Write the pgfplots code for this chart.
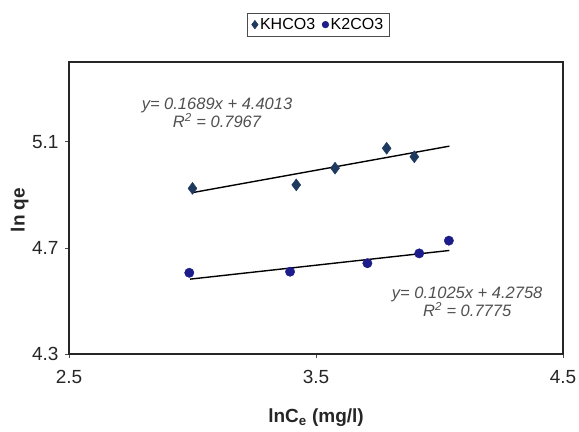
\documentclass[border=0pt]{standalone}
\usepackage{pgfplots}
\pgfplotsset{compat=1.18}
\usepackage{fontspec}
\setmainfont{Liberation Sans}
\definecolor{dia}{HTML}{1F3A5F}
\definecolor{circ}{HTML}{1C1C8A}
\definecolor{eqgray}{HTML}{505050}
\begin{document}
\begin{tikzpicture}
\path[use as bounding box] (0,0) rectangle (579bp,432bp);
\begin{axis}[
  at={(69bp,78bp)}, anchor=south west,
  width=494bp, height=292bp, scale only axis,
  xmin=2.5, xmax=4.5, ymin=4.3, ymax=5.4,
  xtick={2.5,3.5,4.5}, ytick={4.3,4.7,5.1},
  /pgf/number format/assume math mode=true,
  /pgf/number format/fixed, /pgf/number format/precision=1,
  /pgf/number format/fixed zerofill,
  tick align=outside, major tick length=4bp,
  xtick pos=bottom, ytick pos=left,
  axis line style={line width=1.3bp, black!85},
  tick style={black!70, line width=0.6bp},
  ticklabel style={font=\fontsize{19bp}{21bp}\selectfont, text=black!85},
  xticklabel style={yshift=-9bp},
  yticklabel style={xshift=-3bp},
  xlabel={\textbf{lnC\textsubscript{e} (mg/l)}},
  ylabel={\textbf{ln qe}},
  label style={font=\fontsize{19bp}{21bp}\selectfont, text=black!85},
  xlabel style={at={(axis description cs:0.5,-0.218)}, anchor=center},
  ylabel style={at={(axis description cs:-0.100,0.493)}, anchor=center},
  legend style={at={(0.505,1.128)}, anchor=center, legend columns=2,
    draw=black!70, line width=0.6bp, font=\fontsize{16bp}{18bp}\selectfont,
    inner xsep=4bp, inner ysep=3bp,
    /tikz/every even column/.append style={column sep=5bp}},
  legend image post style={scale=0.7},
  legend cell align=left,
  clip=false,
]
\addplot[only marks, mark=diamond*, mark size=6bp, color=dia]
  coordinates {(3.00,4.924) (3.42,4.937) (3.577,5.000) (3.786,5.075) (3.898,5.043)};
\addlegendentry{KHCO3}
\addplot[only marks, mark=*, mark size=4.7bp, color=circ]
  coordinates {(2.987,4.606) (3.395,4.610) (3.708,4.642) (3.918,4.679) (4.038,4.727)};
\addlegendentry{K2CO3}
\addplot[black, line width=1.4bp, forget plot] coordinates {(3.0,4.908) (4.04,5.083)};
\addplot[black, line width=1.4bp, forget plot] coordinates {(2.99,4.582) (4.04,4.690)};
\node[font=\fontsize{16.5bp}{18bp}\selectfont\itshape, text=eqgray, align=center]
  at (axis description cs:0.2996,0.826) {y= 0.1689x + 4.4013\\[0bp]R\textsuperscript{2} = 0.7967};
\node[font=\fontsize{16.5bp}{18bp}\selectfont\itshape, text=eqgray, align=center]
  at (axis description cs:0.806,0.177) {y= 0.1025x + 4.2758\\[0bp]R\textsuperscript{2} = 0.7775};
\end{axis}
\end{tikzpicture}
\end{document}
